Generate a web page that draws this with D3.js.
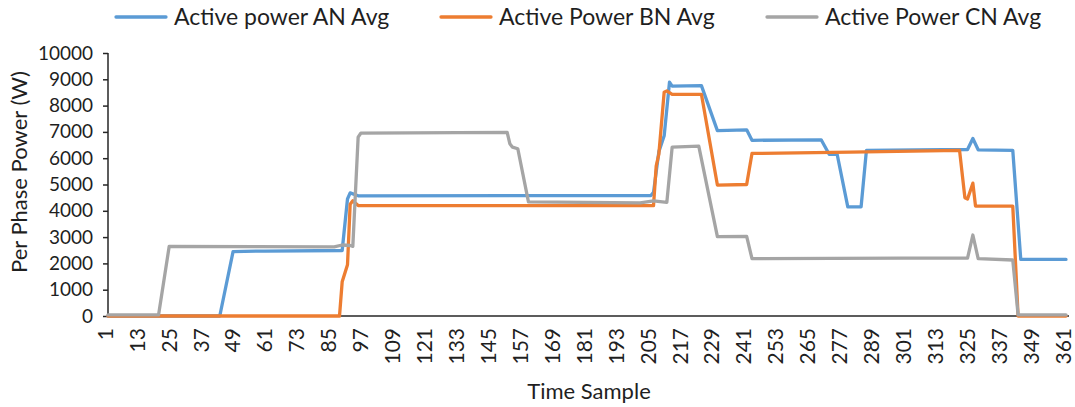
<!DOCTYPE html>
<html>
<head>
<meta charset="utf-8">
<script src="https://cdn.jsdelivr.net/npm/d3@7"></script>
<style>
  html, body { margin: 0; padding: 0; background: #ffffff; }
  svg { display: block; }
  text { font-family: Lato, "Open Sans", sans-serif; fill: #1f1f1f; }
</style>
</head>
<body>
<svg id="chart" width="1075" height="407"></svg>
<script>
// ---- data (sample number / value breakpoints) ----
const seriesNames = ["Active power AN Avg", "Active Power BN Avg", "Active Power CN Avg"];
const seriesColors = ["#5B9BD5", "#ED7D31", "#A5A5A5"];

const anSamples = [1, 43, 48, 60, 89, 91, 92, 95, 205, 206, 208, 210, 212, 213, 224, 230, 241, 243, 269, 272, 275, 279, 284, 286, 324, 326, 328, 341, 344, 361];
const anValues  = [0, 0, 2450, 2470, 2490, 4450, 4680, 4570, 4580, 4700, 6250, 6850, 8890, 8740, 8760, 7050, 7080, 6680, 6700, 6150, 6150, 4150, 4150, 6300, 6330, 6750, 6320, 6300, 2150, 2150];

const bnSamples = [1, 88, 89, 91, 92, 93, 95, 206, 207, 208, 210, 211, 213, 224, 230, 241, 243, 280, 321, 323, 324, 326, 327, 341, 343, 361];
const bnValues  = [0, 0, 1300, 1950, 4250, 4380, 4200, 4200, 5700, 6150, 8510, 8560, 8430, 8430, 4980, 5000, 6180, 6230, 6300, 4500, 4450, 5050, 4180, 4180, 0, 0];

const cnSamples = [1, 20, 24, 86, 89, 92, 93, 95, 96, 151, 152, 153, 155, 159, 201, 206, 211, 213, 223, 230, 241, 243, 300, 324, 326, 328, 341, 343, 361];
const cnValues  = [40, 40, 2650, 2630, 2700, 2680, 2650, 6800, 6950, 6980, 6550, 6420, 6360, 4340, 4300, 4380, 4320, 6420, 6460, 3020, 3030, 2180, 2200, 2200, 3080, 2180, 2130, 40, 40];

const xTickLabels = [1, 13, 25, 37, 49, 61, 73, 85, 97, 109, 121, 133, 145, 157, 169, 181, 193, 205, 217, 229, 241, 253, 265, 277, 289, 301, 313, 325, 337, 349, 361];
const yTickLabels = [0, 1000, 2000, 3000, 4000, 5000, 6000, 7000, 8000, 9000, 10000];
const yTitle = "Per Phase Power (W)";
const xTitle = "Time Sample";

// ---- layout ----
const svg = d3.select("#chart");
const plot = { left: 108, right: 1066, top: 53, bottom: 316 };

const x = d3.scaleLinear().domain([1, 361]).range([plot.left, plot.right]);
const y = d3.scaleLinear().domain([0, 10000]).range([plot.bottom, plot.top]);

const axisColor = "#262626";

// y axis
const yAxis = svg.append("g")
  .attr("transform", `translate(${plot.left},0)`)
  .call(d3.axisLeft(y).tickValues(yTickLabels).tickSize(5).tickPadding(10).tickFormat(d3.format("d")));
yAxis.select(".domain").attr("stroke", axisColor).attr("stroke-width", 1.5).attr("d", `M0,${plot.top}V${plot.bottom}`);
yAxis.selectAll(".tick line").attr("stroke", axisColor).attr("stroke-width", 1.5).attr("x1", -5).attr("x2", 0);
yAxis.selectAll(".tick text").attr("font-size", 19).attr("fill", "#1f1f1f")
  .style("font-family", "Lato, 'Open Sans', sans-serif");

// x axis
const xAxis = svg.append("g")
  .attr("transform", `translate(0,${plot.bottom})`)
  .call(d3.axisBottom(x).tickValues(xTickLabels).tickSize(0).tickPadding(0).tickFormat(d3.format("d")));
xAxis.select(".domain").attr("stroke", axisColor).attr("stroke-width", 1.5)
  .attr("d", `M${plot.left},0H${plot.right + 3}`);
xAxis.selectAll(".tick text")
  .attr("font-size", 21)
  .style("font-family", "Lato, 'Open Sans', sans-serif")
  .attr("fill", "#1f1f1f")
  .attr("text-anchor", "end")
  .attr("transform", "translate(0,12) rotate(-90)")
  .attr("x", 0).attr("y", 0).attr("dy", "0.2em");

// series lines
const line = d3.line()
  .x(d => x(d[0]))
  .y(d => y(d[1]))
  .curve(d3.curveLinear);

const allSeries = [
  d3.zip(anSamples, anValues),
  d3.zip(bnSamples, bnValues),
  d3.zip(cnSamples, cnValues)
];

svg.append("g").selectAll("path")
  .data(allSeries)
  .join("path")
  .attr("d", line)
  .attr("fill", "none")
  .attr("stroke", (d, i) => seriesColors[i])
  .attr("stroke-width", 3.3)
  .attr("stroke-linejoin", "round")
  .attr("stroke-linecap", "round");

// axis titles
svg.append("text")
  .attr("transform", "translate(27,172) rotate(-90)")
  .attr("text-anchor", "middle")
  .attr("font-size", 22)
  .text(yTitle);

svg.append("text")
  .attr("x", 589).attr("y", 399)
  .attr("text-anchor", "middle")
  .attr("font-size", 22)
  .text(xTitle);

// legend
const legendX = [116, 441, 767];
const legend = svg.append("g");
seriesNames.forEach((name, i) => {
  legend.append("line")
    .attr("x1", legendX[i]).attr("x2", legendX[i] + 50)
    .attr("y1", 17).attr("y2", 17)
    .attr("stroke", seriesColors[i]).attr("stroke-width", 3.3)
    .attr("stroke-linecap", "round");
  legend.append("text")
    .attr("x", legendX[i] + 58).attr("y", 25)
    .attr("font-size", 23)
    .text(name);
});
</script>
</body>
</html>
